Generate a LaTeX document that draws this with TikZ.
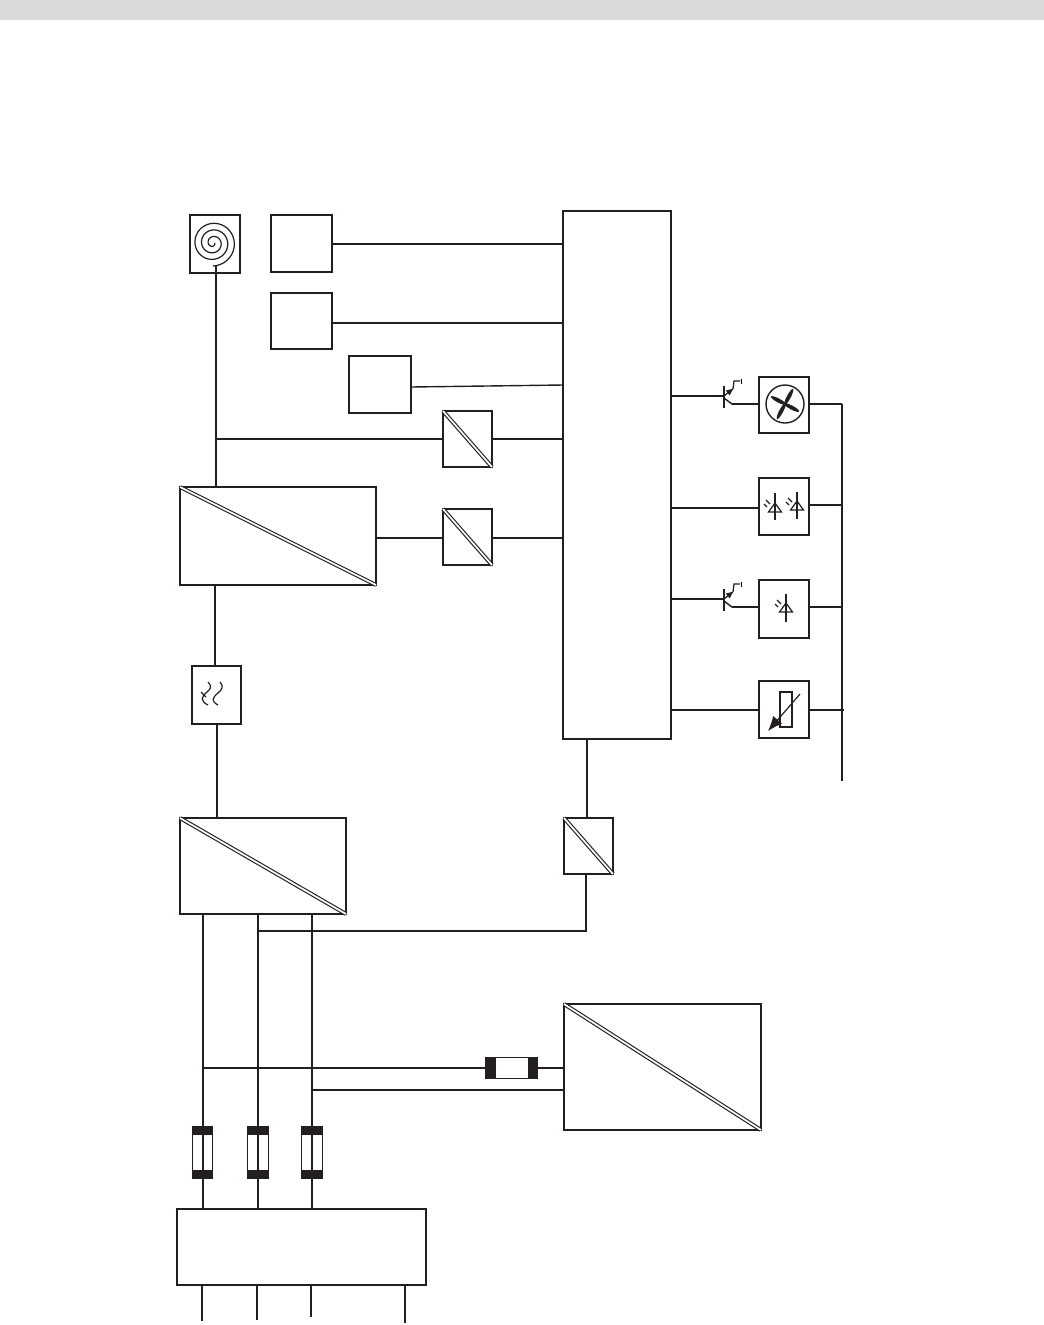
\documentclass[tikz,border=0pt]{standalone}
\usetikzlibrary{arrows.meta,calc}
\definecolor{band}{HTML}{D9D9D9}
\definecolor{ink}{HTML}{231F20}
\newcommand{\boxn}[5]{\node[blockbox,minimum width={(#4-#2)*0.75pt},minimum height={(#5-#3)*0.75pt}] (#1) at ({(#2+#4)/2},{(#3+#5)/2}) {};}
\newcommand{\diag}[1]{\draw[diagline] (#1.north west) -- (#1.south east);}
\newcommand{\ledsym}[4]{% x, ytop, ybase, ybottom
  \draw[thin1] (#1,#2) -- (#1,#4);
  \draw[thin1] ({#1-6.5},#3) -- ({#1+6.5},#3) -- (#1,{#3-9}) -- cycle;
  \draw[thin1] ({#1-11},{#3-8}) -- ({#1-8},{#3-5});
  \draw[thin1] ({#1-9},{#3-12}) -- ({#1-5},{#3-8});
}
\newcommand{\transistor}[3]{% bar x, base y, name
  \coordinate (#3b) at (#1,#2);
  \draw[wire] (#1,{#2-10}) -- (#1,{#2+12});
  \draw[thin1,-{Latex[length=6pt,width=5pt]}] (#1,#2) -- ({#1+10},{#2-8});
  \draw[thin1] ({#1+9},{#2-7}) -- ({#1+10},{#2-15}) -- ({#1+16},{#2-15});
  \draw[line width=.6pt] ({#1+17},{#2-17.5}) -- ({#1+17},{#2-12.5});
  \draw[wire] (#1,{#2+2}) -- ({#1+8},{#2+8});
}
\tikzset{
  x=0.75pt,y=-0.75pt,
  wire/.style={line width=1.05pt,color=ink},
  thin1/.style={line width=.9pt,color=ink},
  blockbox/.style={draw=ink,line width=1.05pt,fill=white,inner sep=0pt,outer sep=0pt},
  diagline/.style={draw=ink,double=white,line width=.85pt,double distance=1.3pt},
  fusebox/.style={draw=ink,line width=1pt,fill=white,inner sep=0pt,outer sep=0pt},
  capfill/.style={fill=ink,draw=none},
  blade/.style={fill=ink,draw=none},
}
\begin{document}
\begin{tikzpicture}
\useasboundingbox (0,0) rectangle (1044,1325);
\fill[band] (0,0) rectangle (1044,20);

% blocks
\boxn{coil}{190}{215}{240}{273}
\boxn{ba}{271}{215}{332}{272}
\boxn{bb}{271}{293}{332}{349}
\boxn{bc}{349}{356}{411}{413}
\boxn{isoa}{443}{411}{492}{467}
\boxn{isob}{443}{509}{492}{565}
\boxn{mcu}{563}{211}{671}{739}
\boxn{conva}{180}{487}{376}{585}
\boxn{filt}{192}{666}{241}{724}
\boxn{convb}{180}{818}{346}{914}
\boxn{isoc}{564}{818}{613}{874}
\boxn{convc}{564}{1004}{761}{1130}
\boxn{bridge}{177}{1209}{426}{1285}
\boxn{fan}{759}{377}{809}{433}
\boxn{ledb}{759}{478}{809}{535}
\boxn{leda}{759}{580}{809}{638}
\boxn{res}{759}{681}{809}{738}
\diag{isoa}\diag{isob}\diag{conva}\diag{convb}\diag{isoc}\diag{convc}

% named free ends and junctions
\coordinate (ja) at (216,265);
\coordinate (jb) at (216,439);
\coordinate (jc) at (215,585);
\coordinate (jd) at (217,724);
\coordinate (ta) at (203,914);
\coordinate (tb) at (258,914);
\coordinate (tc) at (312,914);
\coordinate (ia) at (203,1068);
\coordinate (ib) at (312,1090);
\coordinate (ic) at (258,931);
\coordinate (id) at (586,931);
\coordinate (ie) at (587,739);
\coordinate (busa) at (842,404);
\coordinate (busb) at (842,781);
\coordinate (ya) at (202,1321);
\coordinate (yb) at (257,1320);
\coordinate (yc) at (311,1317);
\coordinate (yd) at (405,1323);

% left side connectors
\draw[wire] (ja) -- (ja |- conva.north);
\draw[wire] (jb) -- (isoa.west |- jb);
\draw[wire] (ba.east |- 0,244) -- (mcu.west |- 0,244);
\draw[wire] (332,323) -- (mcu.west |- 0,323);
\draw[wire] (411,387) -- (563,385);
\draw[wire] (isoa.east) -- (mcu.west |- isoa.east);
\draw[wire] (conva.east |- 0,538) -- (isob.west |- 0,538);
\draw[wire] (isob.east |- 0,538) -- (mcu.west |- 0,538);
\draw[wire] (jc) -- (jc |- filt.north);
\draw[wire] (jd) -- (jd |- convb.north);
\draw[wire] (ie) -- (ie |- isoc.north);
\draw[wire] (ic) -- (id) -- (id |- isoc.south);
\draw[wire] (ib) -- (convc.west |- ib);

% fuses
\node[fusebox,minimum width=15.4pt,minimum height=39pt] (fa) at (202.5,1152.5) {};
\node[fusebox,minimum width=15.4pt,minimum height=39pt] (fb) at (258,1152.5) {};
\node[fusebox,minimum width=15.4pt,minimum height=39pt] (fc) at (312,1152.5) {};
\node[fusebox,minimum width=39pt,minimum height=15.4pt] (fd) at (511.5,1068) {};
\foreach \f in {fa,fb,fc}{
  \fill[capfill] (\f.north west) rectangle ($(\f.north east)+(0,8.5)$);
  \fill[capfill] (\f.south west) rectangle ($(\f.south east)+(0,-8.5)$);
}
\fill[capfill] (fd.north west) rectangle ($(fd.south west)+(10,0)$);
\fill[capfill] (fd.north east) rectangle ($(fd.south east)+(-10,0)$);
\draw[wire] (ta) -- (ta |- bridge.north);
\draw[wire] (tb) -- (tb |- bridge.north);
\draw[wire] (tc) -- (tc |- bridge.north);
\draw[wire] (ia) -- (fd.west);
\draw[wire] (fd.east) -- (convc.west |- fd.east);
\draw[wire] (ya |- bridge.south) -- (ya);
\draw[wire] (yb |- bridge.south) -- (yb);
\draw[wire] (yc |- bridge.south) -- (yc);
\draw[wire] (yd |- bridge.south) -- (yd);

% right side connectors
\draw[wire] (busa) -- (busb);
\draw[wire] (fan.east |- busa) -- (busa);
\draw[wire] (ledb.east |- 0,505) -- (busa |- 0,505);
\draw[wire] (leda.east |- 0,607) -- (busa |- 0,607);
\draw[wire] (res.east |- 0,710) -- ([xshift=1.5]busa |- 0,710);
\draw[wire] (mcu.east |- 0,508) -- (ledb.west |- 0,508);
\draw[wire] (mcu.east |- 0,710) -- (res.west |- 0,710);

% transistors
\transistor{724}{396}{qa}
\transistor{724}{599}{qb}
\draw[wire] (mcu.east |- qab) -- (qab);
\draw[wire] (mcu.east |- qbb) -- (qbb);
\draw[wire] (732,404) -- (fan.west |- 0,404);
\draw[wire] (732,607) -- (leda.west |- 0,607);

% spiral
\draw[line width=.9pt,color=ink] plot[smooth,samples=120,domain=-1080:90,variable=\t]
  ({213+(1.5+21.5*((\t+1080)/1170))*cos(\t)},{243+(1.5+21.5*((\t+1080)/1170))*sin(\t)});

% filter symbol
\draw[thin1] (208,682) .. controls (212,686) and (211,689) .. (207,692) .. controls (201,697) and (200,701) .. (208,705);
\draw[thin1] (220,682) .. controls (224,686) and (222,690) .. (218,693) .. controls (212,698) and (211,701) .. (218,705);
\draw[thin1] (201,692) -- (206,697);

% fan symbol
\draw[wire] (785,404) circle[radius=19];
\foreach \a/\l in {-118/16,-28/15,62/16,152/15}{
  \fill[blade,shift={(785,404)},rotate=\a] (\l/2,0) ellipse[x radius=\l/2+1,y radius=2];
}

% LEDs
\ledsym{775}{493}{512}{520}
\ledsym{797}{492}{510}{519}
\ledsym{786}{594}{612}{622}

% variable resistor
\draw[line width=.9pt,color=ink] (780,692) rectangle (792,727);
\draw[line width=.9pt,color=ink,-{Latex[length=11pt,width=9pt]}] (800,694) -- (768,731);
\end{tikzpicture}
\end{document}
